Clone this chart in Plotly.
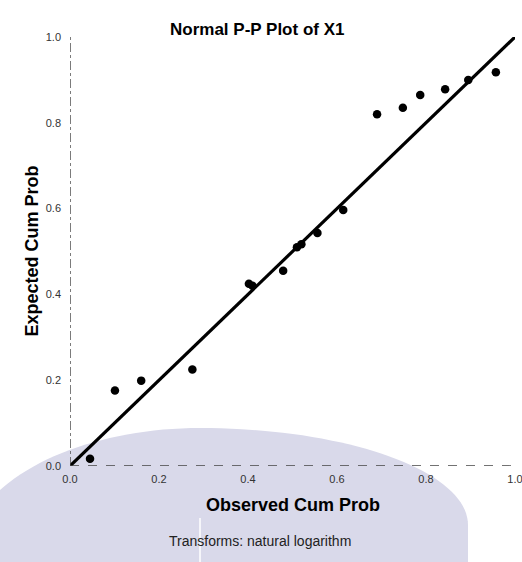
import math
import plotly.graph_objects as go

# Normal P-P plot of X1 (natural log transform)
observed_cum_prob = [0.045, 0.101, 0.160, 0.275, 0.402, 0.410, 0.479, 0.510,
                     0.520, 0.556, 0.614, 0.690, 0.748, 0.787, 0.843, 0.895, 0.957]
expected_cum_prob = [0.017, 0.176, 0.199, 0.225, 0.425, 0.420, 0.455, 0.510,
                     0.517, 0.543, 0.597, 0.820, 0.835, 0.865, 0.878, 0.900, 0.918]
ref_line = [0.0, 1.0]
tick_vals = [0.0, 0.2, 0.4, 0.6, 0.8, 1.0]
tick_text = ["0.0", "0.2", "0.4", "0.6", "0.8", "1.0"]

FONT = "Liberation Sans, Arial, sans-serif"

W, H = 522, 562
ML, MR, MT, MB = 70, 7, 37, 96
PW, PH = W - ML - MR, H - MT - MB


def px_to_paper(px, py):
    return (px - ML) / PW, (H - MB - py) / PH


def backdrop_path():
    """Closed outline of the lavender dome behind the lower half (pixel space)."""
    cx, top = 200, 428
    pts = []
    # left flank: quarter ellipse from the bottom-left up to the top
    cyl, al = 560, 236
    bl = cyl - top
    pts.append((cx - al, H + 40))
    for i in range(0, 41):
        t = math.pi / 2 * i / 40
        pts.append((cx - al * math.cos(t), cyl - bl * math.sin(t)))
    # right flank: quarter ellipse from the top down to the right
    cyr, ar = 525, 268
    br = cyr - top
    for i in range(40, -1, -1):
        t = math.pi / 2 * i / 40
        pts.append((cx + ar * math.cos(t), cyr - br * math.sin(t)))
    pts.append((cx + ar, H + 40))
    segs = []
    for k, (x, y) in enumerate(pts):
        xp, yp = px_to_paper(x, y)
        segs.append(("M" if k == 0 else "L") + f"{xp:.4f},{yp:.4f}")
    return " ".join(segs) + " Z"


fig = go.Figure()

# reference diagonal
fig.add_trace(go.Scatter(
    x=ref_line, y=ref_line, mode="lines",
    line=dict(color="black", width=3.2), hoverinfo="skip", showlegend=False,
))

# observed vs expected points
fig.add_trace(go.Scatter(
    x=observed_cum_prob, y=expected_cum_prob, mode="markers",
    marker=dict(color="black", size=8.5), showlegend=False,
))

axis_common = dict(
    range=[0, 1], showgrid=False, zeroline=False, showline=False,
    tickvals=tick_vals, ticktext=tick_text, ticks="",
    tickfont=dict(family=FONT, size=11, color="#333333"),
    ticklabeloverflow="allow", automargin=False, fixedrange=True,
)

fig.update_xaxes(**axis_common, ticklabelstandoff=5)
fig.update_yaxes(**axis_common, ticklabelstandoff=8)

seam_x, seam_y0 = px_to_paper(200, 518)
_, seam_y1 = px_to_paper(200, H + 10)

shapes = [
    # soft lavender backdrop
    dict(type="path", xref="paper", yref="paper", layer="below",
         path=backdrop_path(), fillcolor="#d9d9ea", line=dict(width=0)),
    # thin light seam in the backdrop
    dict(type="line", xref="paper", yref="paper", layer="below",
         x0=seam_x, x1=seam_x, y0=seam_y0, y1=seam_y1,
         line=dict(color="white", width=1.5)),
    # dashed axis lines
    dict(type="line", xref="x", yref="y", x0=0, x1=0, y0=0, y1=1,
         line=dict(color="#444444", width=1.4, dash="dashdot")),
    dict(type="line", xref="x", yref="y", x0=0, x1=1, y0=0, y1=0,
         line=dict(color="#444444", width=1.4, dash="dash")),
]

annotations = [
    dict(text="<b>Normal P-P Plot of X1</b>", xref="paper", yref="paper",
         x=0.42, y=1, yshift=19, showarrow=False,
         font=dict(family=FONT, size=17, color="black")),
    dict(text="<b>Expected Cum Prob</b>", xref="paper", yref="paper",
         x=0, y=0.5, xshift=-51, textangle=-90, showarrow=False,
         font=dict(family=FONT, size=18, color="black")),
    dict(text="<b>Observed Cum Prob</b>", xref="paper", yref="paper",
         x=0.5, y=0, yshift=-51, showarrow=False,
         font=dict(family=FONT, size=18, color="black")),
    dict(text="Transforms: natural logarithm", xref="paper", yref="paper",
         x=0.427, y=0, yshift=-85, showarrow=False,
         font=dict(family=FONT, size=14, color="#222222")),
]

fig.update_layout(
    width=W, height=H,
    margin=dict(l=ML, r=MR, t=MT, b=MB, autoexpand=False),
    paper_bgcolor="white", plot_bgcolor="rgba(0,0,0,0)",
    shapes=shapes, annotations=annotations,
    showlegend=False,
)

fig.write_html("out.html")
